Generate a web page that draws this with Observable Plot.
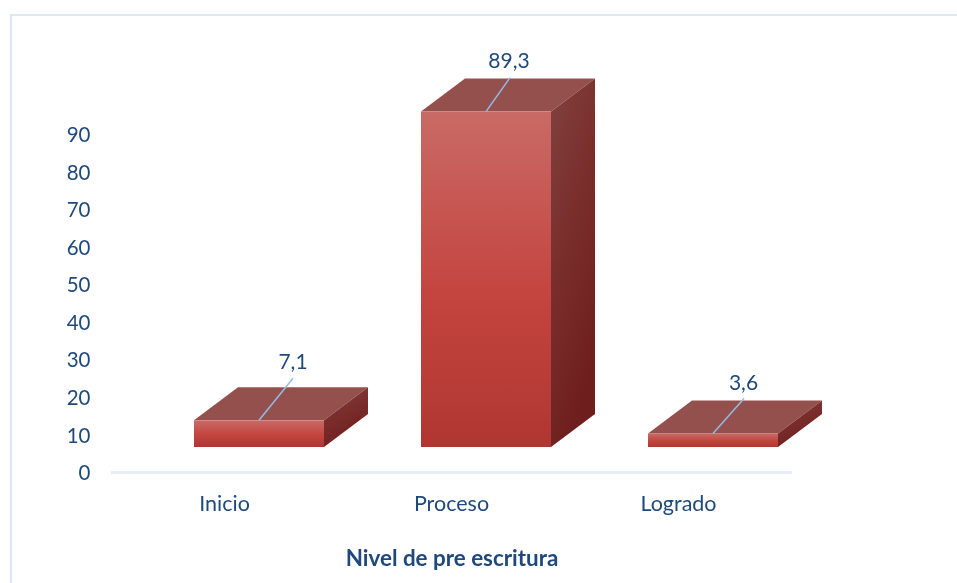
<!DOCTYPE html>
<html>
<head>
<meta charset="utf-8">
<script src="https://cdn.jsdelivr.net/npm/d3@7"></script>
<script src="https://cdn.jsdelivr.net/npm/@observablehq/plot@0.6"></script>
<style>
  html, body { margin: 0; padding: 0; background: #fff; width: 957px; height: 583px; overflow: hidden; }
  #frame { position: absolute; left: 10px; top: 14px; width: 960px; height: 600px; border: 2px solid #dce8f7; }
  #chart { position: absolute; left: 0; top: 0; filter: blur(0.4px); }
  #chart svg { background: transparent; }
</style>
</head>
<body>
<div id="frame"></div>
<div id="chart"></div>
<script>
const categories = ["Inicio", "Proceso", "Logrado"];
const values = [7.1, 89.3, 3.6];
const labels = ["7,1", "89,3", "3,6"];
const yTicks = [0, 10, 20, 30, 40, 50, 60, 70, 80, 90];

const rows = categories.map((c, i) => ({category: c, value: values[i], label: labels[i]}));

const ink = "#1f497d";
const floorDx = 35, floorDy = -25;     // the 3D floor shifts the bars off the axis
const depthDx = 44, depthDy = -33;     // extrusion of each box
const leaderOffsets = [[34, -42], [24, -34], [31, -35]];
const labelOffsets = [[33.5, -59], [22.5, -51], [30, -51]];

const defs = () => {
  const s = d3.create("svg:defs");
  const g = (id, x2, y2, stops) => {
    const lg = s.append("linearGradient").attr("id", id)
      .attr("x1", 0).attr("y1", 0).attr("x2", x2).attr("y2", y2);
    stops.forEach(([o, c]) => lg.append("stop").attr("offset", o).attr("stop-color", c));
  };
  g("front", 0, 1, [[0, "#c96a66"], [0.55, "#c4443f"], [1, "#b03631"]]);
  g("side", 0.4, 1, [[0, "#804240"], [0.5, "#7a2e2b"], [1, "#6e1f1d"]]);
  return s.node();
};

const boxFaces = (index, {x, y}) => {
  const g = d3.create("svg:g");
  rows.forEach(r => {
    const l = x(r.category) + floorDx, w = x.bandwidth();
    const b = y(0) + floorDy, t = y(r.value) + floorDy;
    const poly = pts => pts.map(p => p.join(",")).join(" ");
    g.append("polygon").attr("fill", "#94504d").attr("points", poly([
      [l, t], [l + w, t], [l + w + depthDx, t + depthDy], [l + depthDx, t + depthDy]]));
    g.append("polygon").attr("fill", "url(#side)").attr("points", poly([
      [l + w, t], [l + w + depthDx, t + depthDy], [l + w + depthDx, b + depthDy], [l + w, b]]));
  });
  return g.node();
};

const leaders = (index, {x, y}) => {
  const g = d3.create("svg:g");
  rows.forEach((r, i) => {
    const cx = x(r.category) + floorDx + x.bandwidth() / 2;
    const cy = y(r.value) + floorDy;
    g.append("line").attr("x1", cx).attr("y1", cy)
      .attr("x2", cx + leaderOffsets[i][0]).attr("y2", cy + leaderOffsets[i][1])
      .attr("stroke", "#94bbe6").attr("stroke-width", 1.5);
  });
  return g.node();
};

const plot = Plot.plot({
  width: 957,
  height: 583,
  marginLeft: 111,
  marginRight: 165,
  marginTop: 96.4,
  marginBottom: 111,
  style: {fontFamily: "Lato", color: ink, background: "transparent"},
  x: {domain: categories, paddingInner: 0.427, paddingOuter: 0.2135, label: null},
  y: {domain: [0, 100], label: null},
  marks: [
    defs,
    Plot.ruleY([0], {stroke: "#e6eef8", strokeWidth: 3}),
    boxFaces,
    Plot.barY(rows, {x: "category", y: "value", fill: "url(#front)", dx: floorDx, dy: floorDy}),
    leaders,
    ...rows.map((r, i) => Plot.text([r], {
      x: "category", y: "value", text: "label",
      dx: labelOffsets[i][0] + floorDx, dy: labelOffsets[i][1] + floorDy,
      fill: ink, fontSize: 21, fontFamily: "Lato"
    })),
    Plot.axisY({ticks: yTicks, tickSize: 0, tickPadding: 21, label: null, fontSize: 20.5, fill: ink, fontFamily: "Lato", dy: 1}),
    Plot.axisX({tickSize: 0, tickPadding: 23, fontSize: 21.5, fill: ink, fontFamily: "Lato",
      label: "Nivel de pre escritura", labelAnchor: "center", labelArrow: "none", labelOffset: 93}),
  ]
});
document.getElementById("chart").append(plot);
d3.select(plot).selectAll("[aria-label='x-axis label'] text, g[aria-label='x-axis label']")
  .attr("font-weight", "bold").attr("font-size", 22.4);
</script>
</body>
</html>
